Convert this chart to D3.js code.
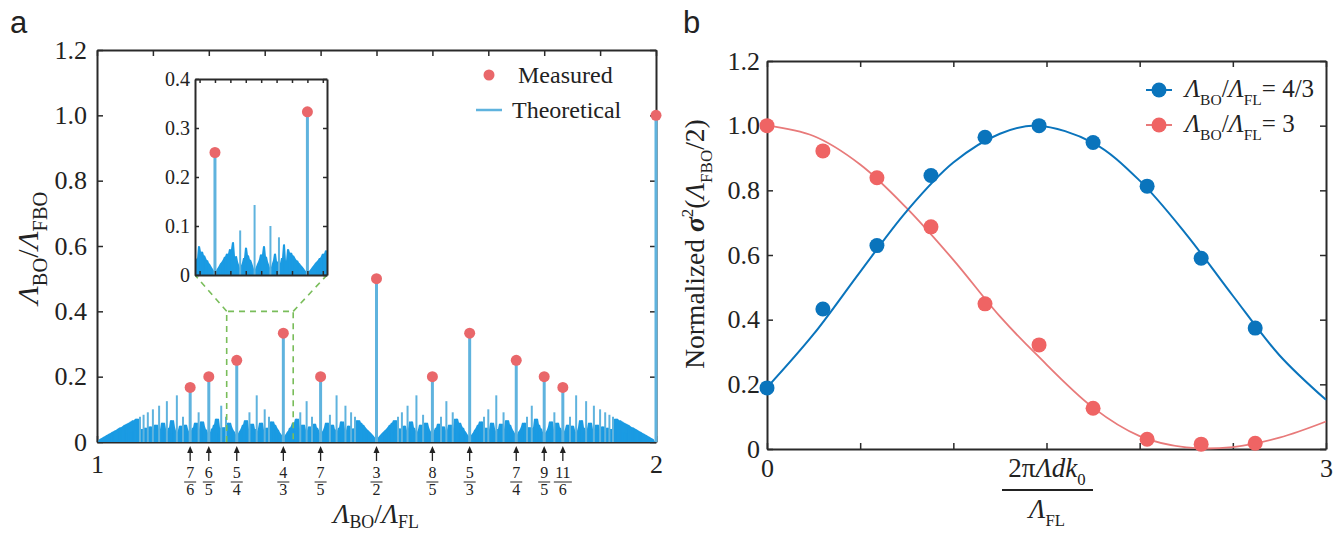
<!DOCTYPE html>
<html>
<head>
<meta charset="utf-8">
<script src="https://cdn.jsdelivr.net/npm/d3@7"></script>
<style>
  body { margin: 0; background: #fff; }
  svg text { font-family: "Liberation Serif", "Times New Roman", serif; fill: #222; }
</style>
</head>
<body>
<svg id="chart" width="1334" height="533"></svg>
<script>
// ---- panel a data ----
// theoretical comb: a stem at every reduced fraction p/q in (1, 2], height 1/q
var maxDen = 150;
// measured points (fraction numerator / denominator, measured height)
var measNum = [7, 6, 5, 4, 7, 3, 8, 5, 7, 9, 11, 2];
var measDen = [6, 5, 4, 3, 5, 2, 5, 3, 4, 5, 6, 1];
var measVal = [0.167, 0.2, 0.25, 0.333, 0.2, 0.5, 0.2, 0.333, 0.25, 0.2, 0.167, 1.0];
// arrows under the x axis
var arrowNum = [7, 6, 5, 4, 7, 3, 8, 5, 7, 9, 11];
var arrowDen = [6, 5, 4, 3, 5, 2, 5, 3, 4, 5, 6];
var insetRange = [1.232, 1.351];

// ---- panel b data ----
var ptX = [0, 0.30, 0.59, 0.88, 1.17, 1.46, 1.75, 2.04, 2.33, 2.62];
var blueVal = [0.189, 0.433, 0.629, 0.846, 0.964, 1.0, 0.948, 0.813, 0.590, 0.374];
var redVal = [1.0, 0.922, 0.839, 0.687, 0.449, 0.322, 0.126, 0.030, 0.015, 0.018];
var curveX = [0, 0.25, 0.5, 0.75, 1.0, 1.25, 1.45, 1.75, 2.0, 2.25, 2.5, 2.75, 3.0];
var blueCurve = [0.19, 0.355, 0.548, 0.736, 0.886, 0.975, 1.0, 0.947, 0.83, 0.664, 0.474, 0.29, 0.152];
var redCurve = [1.0, 0.968, 0.88, 0.745, 0.585, 0.41, 0.29, 0.128, 0.04, 0.005, 0.006, 0.035, 0.085];

var serif = "Liberation Serif";
var denseColor = "#1b9be3";
var stemColor = "#5fb3de";
var dotRed = "#e9676a";
var blue = "#0a74bc";
var lineRed = "#e87a7a";
var axisColor = "#2a2a2a";
var denseQ = 14;

var svg = d3.select("#chart");

function gcd(a, b) { return b ? gcd(b, a % b) : a; }
var theory = [];
for (var q = 1; q <= maxDen; q++) {
  for (var p = q + 1; p <= 2 * q; p++) {
    if (gcd(p, q) === 1) theory.push({x: p / q, y: 1 / q, q: q});
  }
}
theory.sort(function(a, b) { return b.q - a.q; });

var fmt = function(d) { return d === 0 ? "0" : d.toFixed(1); };

// text with italic / sub / sup runs
function rich(sel, parts, size, subScale, subShift) {
  var ss = subScale || 0.62, sh = subShift || 0.3;
  var t = sel.append("text").attr("font-size", size);
  var shift = 0;
  parts.forEach(function(pt) {
    var target = pt.sub ? size * sh : pt.sup ? -size * 0.4 : 0;
    var ts = t.append("tspan").text(pt.t).attr("dy", target - shift);
    shift = target;
    if (pt.sub || pt.sup) ts.attr("font-size", size * ss);
    if (pt.i) ts.attr("font-style", "italic");
    if (pt.b) ts.attr("font-weight", "bold");
  });
  return t;
}

function styleAxis(g, fs) {
  g.select(".domain").attr("stroke", axisColor).attr("stroke-width", 2);
  g.selectAll(".tick line").attr("stroke", axisColor).attr("stroke-width", 1.5);
  g.selectAll(".tick text").attr("font-family", serif).attr("font-size", fs).attr("fill", "#222");
}

function frame(g, x, y, o) {
  var b = g.append("g").attr("transform", "translate(0," + y.range()[0] + ")")
    .call(d3.axisBottom(x).tickValues(o.xt).tickSize(-o.ts).tickSizeOuter(0).tickPadding(o.xpad).tickFormat(o.xf));
  styleAxis(b, o.fs);
  var t = g.append("g").attr("transform", "translate(0," + y.range()[1] + ")")
    .call(d3.axisTop(x).tickValues(o.xt).tickSize(-o.ts).tickSizeOuter(0).tickFormat(""));
  styleAxis(t, o.fs);
  var l = g.append("g").attr("transform", "translate(" + x.range()[0] + ",0)")
    .call(d3.axisLeft(y).tickValues(o.yt).tickSize(-o.ts).tickSizeOuter(0).tickPadding(o.ypad).tickFormat(fmt));
  styleAxis(l, o.fs);
  var r = g.append("g").attr("transform", "translate(" + x.range()[1] + ",0)")
    .call(d3.axisRight(y).tickValues(o.yt).tickSize(-o.ts).tickSizeOuter(0).tickFormat(""));
  styleAxis(r, o.fs);
}

// dense high-q stems merge into a solid band: take the max stem height per pixel column
function denseBand(g, data, x, y, win) {
  var x0 = Math.round(x.range()[0]), x1 = Math.round(x.range()[1]);
  var env = new Array(x1 - x0 + 1).fill(0);
  data.forEach(function(d) {
    if (d.q < denseQ) return;
    var c = Math.round(x(d.x));
    for (var k = c - win; k <= c + win; k++) {
      if (k >= x0 && k <= x1 && env[k - x0] < d.y) env[k - x0] = d.y;
    }
  });
  g.append("path")
    .attr("d", d3.area().x(function(v, i) { return x0 + i; }).y0(y(0)).y1(function(v) { return y(v); })(env))
    .attr("fill", denseColor);
}

function stems(g, data, x, y, win) {
  denseBand(g, data, x, y, win);
  g.selectAll("line.dense").data(data.filter(function(d) { return d.q >= denseQ && d.q <= 40; }))
    .enter().append("line")
    .attr("x1", function(d) { return x(d.x); })
    .attr("x2", function(d) { return x(d.x); })
    .attr("y1", y(0))
    .attr("y2", function(d) { return y(d.y); })
    .attr("stroke", denseColor).attr("stroke-opacity", 0.7).attr("stroke-width", 1);
  g.selectAll("line.stem").data(data.filter(function(d) { return d.q < denseQ; }))
    .enter().append("line")
    .attr("x1", function(d) { return x(d.x); })
    .attr("x2", function(d) { return x(d.x); })
    .attr("y1", y(0))
    .attr("y2", function(d) { return y(d.y); })
    .attr("stroke", stemColor)
    .attr("stroke-width", function(d) { return d.q <= 6 ? 3 : 2; });
}

// ================= panel a =================
var xa = d3.scaleLinear().domain([1, 2]).range([97, 656]);
var ya = d3.scaleLinear().domain([0, 1.2]).range([442, 50]);
var ga = svg.append("g");

frame(ga, xa, ya, {
  xt: xa.ticks(10), yt: ya.ticks(6), ts: 6, xpad: 13, ypad: 10, fs: 26,
  xf: function(d) { return (d === 1 || d === 2) ? d : ""; }
});

stems(ga, theory, xa, ya, 2);

var meas = measNum.map(function(n, i) { return {x: n / measDen[i], y: measVal[i]}; });
ga.selectAll("circle.meas").data(meas).enter().append("circle")
  .attr("cx", function(d) { return xa(d.x); })
  .attr("cy", function(d) { return ya(d.y); })
  .attr("r", 5.5).attr("fill", dotRed);

// zoom box (dashed green)
var zx0 = xa(insetRange[0]), zx1 = xa(insetRange[1]);

// inset
var xi = d3.scaleLinear().domain(insetRange).range([195, 327]);
var yi = d3.scaleLinear().domain([0, 0.4]).range([275, 79]);
var gi = svg.append("g");
gi.append("rect").attr("x", 195).attr("y", 79).attr("width", 132).attr("height", 196).attr("fill", "#fff");
svg.append("clipPath").attr("id", "insetClip").append("rect")
  .attr("x", 195).attr("y", 70).attr("width", 132).attr("height", 210);
var gic = gi.append("g").attr("clip-path", "url(#insetClip)");
stems(gic, theory.filter(function(d) { return d.x > insetRange[0] - 0.01 && d.x < insetRange[1] + 0.01; }), xi, yi, 1);
gic.selectAll("circle").data(meas.filter(function(d) { return d.x > insetRange[0] && d.x < insetRange[1]; }))
  .enter().append("circle")
  .attr("cx", function(d) { return xi(d.x); })
  .attr("cy", function(d) { return yi(d.y); })
  .attr("r", 5.5).attr("fill", dotRed);
frame(gi, xi, yi, {
  xt: d3.range(89, 98).map(function(k) { return k / 72; }), yt: yi.ticks(4), ts: 4, xpad: 4, ypad: 5, fs: 20,
  xf: function() { return ""; }
});

var dash = ga.append("g").attr("stroke", "#79bd5a").attr("stroke-width", 1.6)
  .attr("stroke-dasharray", "6,5").attr("fill", "none");
dash.append("path").attr("d", d3.line()([[zx0, ya(0)], [zx0, ya(0.4)], [zx1, ya(0.4)], [zx1, ya(0)]]));
dash.append("path").attr("d", d3.line()([[zx0, ya(0.4)], [xi.range()[0], yi(0)]]));
dash.append("path").attr("d", d3.line()([[zx1, ya(0.4)], [xi.range()[1], yi(0)]]));

// legend a
ga.append("circle").attr("cx", 489).attr("cy", 75).attr("r", 5.5).attr("fill", dotRed);
ga.append("text").attr("x", 518).attr("y", 75).attr("dy", "0.35em").attr("font-size", 24).text("Measured");
ga.append("line").attr("x1", 476).attr("x2", 502).attr("y1", 110).attr("y2", 110)
  .attr("stroke", stemColor).attr("stroke-width", 2.5);
ga.append("text").attr("x", 512).attr("y", 110).attr("dy", "0.35em").attr("font-size", 24).text("Theoretical");

// arrows and fractions
var arr = arrowNum.map(function(n, i) { return {n: n, d: arrowDen[i], x: n / arrowDen[i]}; });
var ag = ga.selectAll("g.arr").data(arr).enter().append("g")
  .attr("transform", function(d) { return "translate(" + xa(d.x) + ",0)"; });
ag.append("line").attr("y1", 461).attr("y2", 451).attr("stroke", "#222").attr("stroke-width", 1.3);
ag.append("path").attr("d", "M-3,453L0,446L3,453Z").attr("fill", "#222");
ag.append("text").attr("y", 478).attr("text-anchor", "middle").attr("font-size", 16).text(function(d) { return d.n; });
ag.append("line").attr("x1", function(d) { return d.n > 9 ? -9 : -6; }).attr("x2", function(d) { return d.n > 9 ? 9 : 6; })
  .attr("y1", 482).attr("y2", 482).attr("stroke", "#222").attr("stroke-width", 1);
ag.append("text").attr("y", 495).attr("text-anchor", "middle").attr("font-size", 16).text(function(d) { return d.d; });

rich(ga.append("g").attr("transform", "translate(376,523)"),
  [{t: "Λ", i: 1}, {t: "BO", sub: 1}, {t: "/"}, {t: "Λ", i: 1}, {t: "FL", sub: 1}], 27, 0.66, 0.2)
  .attr("text-anchor", "middle");
rich(ga.append("g").attr("transform", "translate(38,248) rotate(-90)"),
  [{t: "Λ", i: 1}, {t: "BO", sub: 1}, {t: "/"}, {t: "Λ", i: 1}, {t: "FBO", sub: 1}], 30, 0.68)
  .attr("text-anchor", "middle");

svg.append("text").attr("x", 10).attr("y", 33).attr("font-size", 31)
  .style("font-family", "Liberation Sans, Arial, sans-serif").text("a");

// ================= panel b =================
var xb = d3.scaleLinear().domain([0, 3]).range([767, 1326]);
var yb = d3.scaleLinear().domain([0, 1.2]).range([449, 61]);
var gb = svg.append("g");

frame(gb, xb, yb, {
  xt: xb.ticks(6), yt: yb.ticks(6), ts: 6, xpad: 10, ypad: 7, fs: 26,
  xf: function(d) { return (d === 0 || d === 3) ? d : ""; }
});

var line = d3.line().x(function(d) { return xb(d[0]); }).y(function(d) { return yb(d[1]); })
  .curve(d3.curveCatmullRom.alpha(0.5));
gb.append("path").attr("d", line(curveX.map(function(x, i) { return [x, redCurve[i]]; })))
  .attr("fill", "none").attr("stroke", lineRed).attr("stroke-width", 1.8);
gb.append("path").attr("d", line(curveX.map(function(x, i) { return [x, blueCurve[i]]; })))
  .attr("fill", "none").attr("stroke", blue).attr("stroke-width", 2);

gb.selectAll("circle.red").data(ptX.map(function(x, i) { return [x, redVal[i]]; })).enter().append("circle")
  .attr("cx", function(d) { return xb(d[0]); }).attr("cy", function(d) { return yb(d[1]); })
  .attr("r", 7.5).attr("fill", "#ef6464");
gb.selectAll("circle.blue").data(ptX.map(function(x, i) { return [x, blueVal[i]]; })).enter().append("circle")
  .attr("cx", function(d) { return xb(d[0]); }).attr("cy", function(d) { return yb(d[1]); })
  .attr("r", 7.5).attr("fill", blue);

// legend b
[{c: blue, lc: blue, y: 90, v: "= 4/3"}, {c: "#ef6464", lc: lineRed, y: 125, v: "= 3"}].forEach(function(e) {
  gb.append("line").attr("x1", 1146).attr("x2", 1172).attr("y1", e.y).attr("y2", e.y)
    .attr("stroke", e.lc).attr("stroke-width", 2);
  gb.append("circle").attr("cx", 1159).attr("cy", e.y).attr("r", 7.5).attr("fill", e.c);
  rich(gb.append("g").attr("transform", "translate(1185," + (e.y + 7) + ")"),
    [{t: "Λ", i: 1}, {t: "BO", sub: 1}, {t: "/"}, {t: "Λ", i: 1}, {t: "FL", sub: 1}, {t: e.v}], 25);
});

// axis labels b
rich(gb.append("g").attr("transform", "translate(1047,477)"),
  [{t: "2π"}, {t: "Λdk", i: 1}, {t: "0", sub: 1}], 27).attr("text-anchor", "middle");
gb.append("line").attr("x1", 1002).attr("x2", 1093).attr("y1", 490).attr("y2", 490)
  .attr("stroke", "#222").attr("stroke-width", 2);
rich(gb.append("g").attr("transform", "translate(1047,518)"),
  [{t: "Λ", i: 1}, {t: "FL", sub: 1}], 27).attr("text-anchor", "middle");

rich(gb.append("g").attr("transform", "translate(704,244) rotate(-90)"),
  [{t: "Normalized "}, {t: "σ", i: 1, b: 1}, {t: "2", sup: 1}, {t: "("}, {t: "Λ", i: 1}, {t: "FBO", sub: 1}, {t: "/2)"}], 27.5)
  .attr("text-anchor", "middle");

svg.append("text").attr("x", 683).attr("y", 33).attr("font-size", 31)
  .style("font-family", "Liberation Sans, Arial, sans-serif").text("b");
</script>
</body>
</html>
